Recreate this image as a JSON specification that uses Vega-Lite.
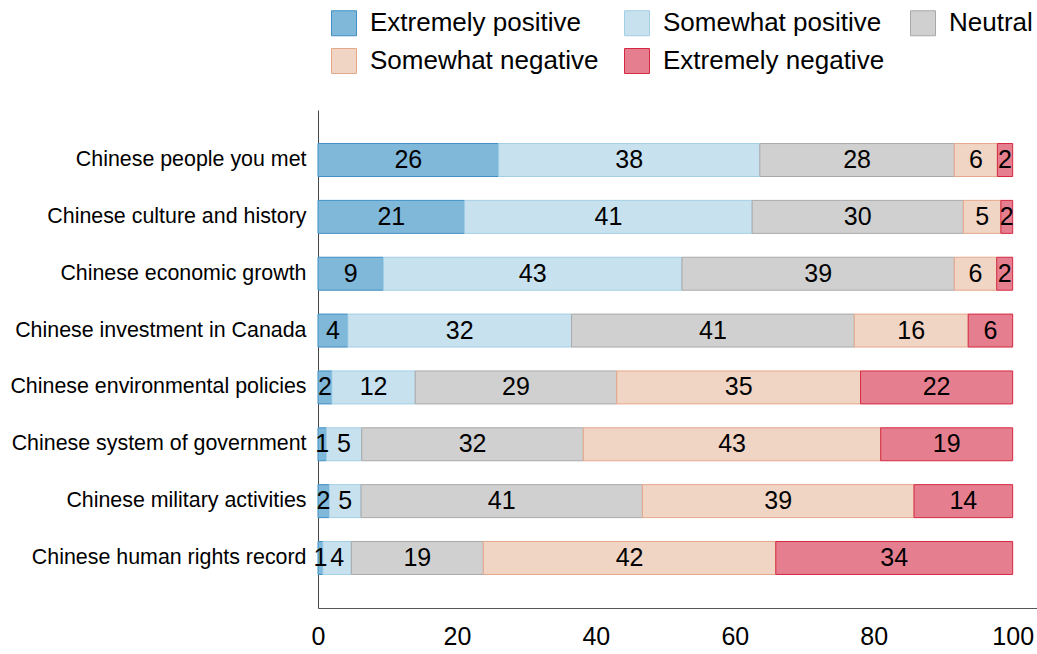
{
  "$schema": "https://vega.github.io/schema/vega-lite/v6.json",
  "width": 719,
  "height": 498,
  "autosize": {"type": "none"},
  "padding": {"left": 318, "top": 110, "right": 0, "bottom": 46},
  "config": {"view": {"stroke": null}, "font": "Liberation Sans"},
  "data": {
    "values": [
      {"item": "Chinese people you met", "resp": "Extremely positive", "ord": 1, "value": 26.0},
      {"item": "Chinese people you met", "resp": "Somewhat positive", "ord": 2, "value": 37.6},
      {"item": "Chinese people you met", "resp": "Neutral", "ord": 3, "value": 28.0},
      {"item": "Chinese people you met", "resp": "Somewhat negative", "ord": 4, "value": 6.2},
      {"item": "Chinese people you met", "resp": "Extremely negative", "ord": 5, "value": 2.2},
      {"item": "Chinese culture and history", "resp": "Extremely positive", "ord": 1, "value": 21.1},
      {"item": "Chinese culture and history", "resp": "Somewhat positive", "ord": 2, "value": 41.4},
      {"item": "Chinese culture and history", "resp": "Neutral", "ord": 3, "value": 30.4},
      {"item": "Chinese culture and history", "resp": "Somewhat negative", "ord": 4, "value": 5.4},
      {"item": "Chinese culture and history", "resp": "Extremely negative", "ord": 5, "value": 1.7},
      {"item": "Chinese economic growth", "resp": "Extremely positive", "ord": 1, "value": 9.4},
      {"item": "Chinese economic growth", "resp": "Somewhat positive", "ord": 2, "value": 43.0},
      {"item": "Chinese economic growth", "resp": "Neutral", "ord": 3, "value": 39.2},
      {"item": "Chinese economic growth", "resp": "Somewhat negative", "ord": 4, "value": 6.1},
      {"item": "Chinese economic growth", "resp": "Extremely negative", "ord": 5, "value": 2.3},
      {"item": "Chinese investment in Canada", "resp": "Extremely positive", "ord": 1, "value": 4.3},
      {"item": "Chinese investment in Canada", "resp": "Somewhat positive", "ord": 2, "value": 32.2},
      {"item": "Chinese investment in Canada", "resp": "Neutral", "ord": 3, "value": 40.7},
      {"item": "Chinese investment in Canada", "resp": "Somewhat negative", "ord": 4, "value": 16.4},
      {"item": "Chinese investment in Canada", "resp": "Extremely negative", "ord": 5, "value": 6.4},
      {"item": "Chinese environmental policies", "resp": "Extremely positive", "ord": 1, "value": 2.0},
      {"item": "Chinese environmental policies", "resp": "Somewhat positive", "ord": 2, "value": 12.0},
      {"item": "Chinese environmental policies", "resp": "Neutral", "ord": 3, "value": 29.0},
      {"item": "Chinese environmental policies", "resp": "Somewhat negative", "ord": 4, "value": 35.1},
      {"item": "Chinese environmental policies", "resp": "Extremely negative", "ord": 5, "value": 21.9},
      {"item": "Chinese system of government", "resp": "Extremely positive", "ord": 1, "value": 1.2},
      {"item": "Chinese system of government", "resp": "Somewhat positive", "ord": 2, "value": 5.1},
      {"item": "Chinese system of government", "resp": "Neutral", "ord": 3, "value": 31.9},
      {"item": "Chinese system of government", "resp": "Somewhat negative", "ord": 4, "value": 42.8},
      {"item": "Chinese system of government", "resp": "Extremely negative", "ord": 5, "value": 19.0},
      {"item": "Chinese military activities", "resp": "Extremely positive", "ord": 1, "value": 1.6},
      {"item": "Chinese military activities", "resp": "Somewhat positive", "ord": 2, "value": 4.6},
      {"item": "Chinese military activities", "resp": "Neutral", "ord": 3, "value": 40.5},
      {"item": "Chinese military activities", "resp": "Somewhat negative", "ord": 4, "value": 39.1},
      {"item": "Chinese military activities", "resp": "Extremely negative", "ord": 5, "value": 14.2},
      {"item": "Chinese human rights record", "resp": "Extremely positive", "ord": 1, "value": 0.7},
      {"item": "Chinese human rights record", "resp": "Somewhat positive", "ord": 2, "value": 4.1},
      {"item": "Chinese human rights record", "resp": "Neutral", "ord": 3, "value": 19.0},
      {"item": "Chinese human rights record", "resp": "Somewhat negative", "ord": 4, "value": 42.1},
      {"item": "Chinese human rights record", "resp": "Extremely negative", "ord": 5, "value": 34.1}
    ]
  },
  "transform": [
    {"stack": "value", "groupby": ["item"], "sort": [{"field": "ord", "order": "ascending"}], "as": ["v0", "v1"]}
  ],
  "encoding": {
    "y": {
      "field": "item",
      "type": "nominal",
      "sort": ["Chinese people you met", "Chinese culture and history", "Chinese economic growth", "Chinese investment in Canada", "Chinese environmental policies", "Chinese system of government", "Chinese military activities", "Chinese human rights record"],
      "scale": {"paddingInner": 0.42, "paddingOuter": 0.59},
      "axis": {"title": null, "ticks": false, "domain": true, "domainColor": "#444444", "domainWidth": 1, "labelFontSize": 21.4, "labelColor": "#000000", "labelPadding": 12, "labelLimit": 0}
    }
  },
  "layer": [
    {
      "mark": {"type": "bar", "strokeWidth": 1, "opacity": 1},
      "encoding": {
        "x": {
          "field": "v0",
          "type": "quantitative",
          "scale": {"domain": [0, 103.5], "nice": false, "zero": true},
          "axis": {"title": null, "ticks": false, "grid": false, "domain": true, "domainColor": "#555555", "domainWidth": 1, "values": [0, 20, 40, 60, 80, 100], "labelFontSize": 25, "labelColor": "#000000", "labelPadding": 16, "labelFlush": false}
        },
        "x2": {"field": "v1"},
        "color": {
          "field": "resp",
          "type": "nominal",
          "scale": {
            "domain": ["Extremely positive", "Somewhat positive", "Neutral", "Somewhat negative", "Extremely negative"],
            "range": ["#80b8d9", "#c8e1ef", "#d0d0d0", "#f0d4c4", "#e57f8f"]
          },
          "legend": {"title": null, "orient": "none", "legendX": 13, "legendY": -100, "direction": "horizontal", "columns": 3, "symbolType": "square", "symbolSize": 625, "symbolStrokeWidth": 1, "symbolOpacity": 1, "labelFontSize": 26, "labelLimit": 0, "labelColor": "#000000", "labelOffset": 13, "rowPadding": 8, "columnPadding": 23, "padding": 0}
        },
        "stroke": {
          "field": "resp",
          "type": "nominal",
          "scale": {
            "domain": ["Extremely positive", "Somewhat positive", "Neutral", "Somewhat negative", "Extremely negative"],
            "range": ["#3f8fc5", "#a3cfe6", "#a9a9a9", "#e6a88c", "#d52941"]
          },
          "legend": {"title": null, "orient": "none", "legendX": 13, "legendY": -100, "direction": "horizontal", "columns": 3, "symbolType": "square", "symbolSize": 625, "symbolStrokeWidth": 1, "symbolOpacity": 1, "labelFontSize": 26, "labelLimit": 0, "labelColor": "#000000", "labelOffset": 13, "rowPadding": 8, "columnPadding": 23, "padding": 0}
        }
      }
    },
    {
      "transform": [
        {"fold": ["v0", "v1"], "as": ["edge", "pos"]}
      ],
      "mark": {"type": "text", "fontSize": 25, "color": "#000000", "align": "center", "baseline": "middle"},
      "encoding": {
        "x": {"aggregate": "mean", "field": "pos", "type": "quantitative"},
        "detail": {"field": "resp", "type": "nominal"},
        "text": {"aggregate": "max", "field": "value", "type": "quantitative", "format": ".0f"}
      }
    }
  ]
}
